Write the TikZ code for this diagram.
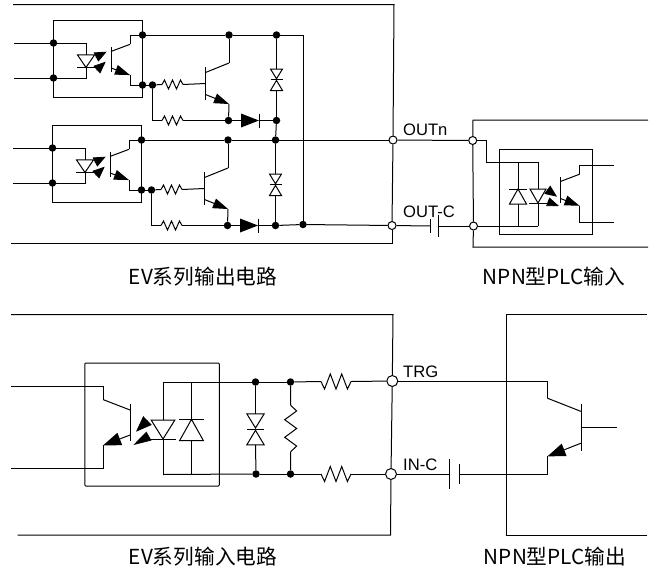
\documentclass[tikz,border=0pt]{standalone}
\usepackage{fontspec}
\setmainfont{Liberation Sans}
\newfontfamily\capfont{Noto Sans CJK SC}
\usetikzlibrary{arrows.meta}
\tikzstyle{line} = [draw, line width=1pt]
\tikzstyle{junction} = [circle, fill=black, inner sep=0pt, minimum size=7.5pt]
\tikzstyle{term} = [circle, draw, fill=white, line width=1pt, inner sep=0pt, minimum size=8pt]
\tikzstyle{term_big} = [term, minimum size=11pt]
\tikzstyle{opto_box} = [rectangle, draw, line width=1pt, inner sep=0pt]
\tikzstyle{pin_label} = [anchor=base west, inner sep=0pt, font=\fontsize{16.6}{16}\selectfont]
\tikzstyle{title} = [inner sep=0pt, font=\capfont\fontsize{20.7}{22}\selectfont]
\tikzstyle{ray} = [draw, line width=0.8pt, ->]
\tikzset{
	resistor/.pic={
		\draw[line] (-10.5,0) coordinate (-in) -- (-8,-4.5) -- (-4,4.5) -- (0,-4.5) -- (4,4.5) -- (8,-4.5) -- (10.5,0) coordinate (-out);
	},
	led/.pic={
		\draw[line] (-8.5,-6.25) -- (8.5,-6.25) -- (0,6.25) -- cycle;
		\draw[line] (-9,6.25) -- (9,6.25);
		\coordinate (-in) at (0,-6.25);
		\coordinate (-out) at (0,6.25);
	},
	zener/.pic={
		\draw[line] (-6,-10.5) -- (6,-10.5) -- (0,-0.7) -- cycle;
		\draw[line] (-6,0) -- (6,0);
		\draw[line] (-6,11) -- (6,11) -- (0,0.9) -- cycle;
		\coordinate (-in) at (0,-10.5);
		\coordinate (-out) at (0,11);
	},
	fdiode/.pic={
		\fill (-9,-7) -- (9,0) -- (-9,7) -- cycle;
		\draw[line] (9,-7) -- (9,7);
		\coordinate (-in) at (-9,0);
		\coordinate (-out) at (9,0);
	},
	npn/.pic={
		\draw[line] (0,-16.5) -- (0,16.5);
		\draw[line] (0,-11) -- (23.5,-20.5) coordinate (-c);
		\draw[line, ->] (0,11) -- (23.5,20.5) coordinate (-e);
		\coordinate (-b) at (0,0);
	},
	capacitor/.pic={
		\draw[line] (-3.65,-6.85) -- (-3.65,6.85);
		\draw[line] (3.65,-10.8) -- (3.65,10.8);
		\coordinate (-in) at (-3.65,0);
		\coordinate (-out) at (3.65,0);
	}
}

\begin{document}
\begin{tikzpicture}[x=1pt, y=-1pt, >={Triangle[length=15pt,width=10pt]}]
	\useasboundingbox (0,0) rectangle (662,571);

	% terminals of the upper pair
	\node[term] (t_outn) at (393,140) {};
	\node[term] (t_outc) at (392,225.5) {};
	\node[term] (t_inn) at (472.7,140.5) {};
	\node[term] (t_inc) at (473.5,226) {};

	\foreach \ch/\dx/\dy in {a/0/0, b/-1/105} {
		\begin{scope}[shift={(\dx,\dy)}]
			\node[opto_box, minimum width=89pt, minimum height=76.5pt] (box_\ch) at (98,58.75) {};
			\node[junction] (ci1_\ch) at (53.5,43) {};
			\node[junction] (ci2_\ch) at (53.5,78) {};
			\node[junction] (cc_\ch) at (142.5,35) {};
			\node[junction] (ce_\ch) at (142.5,85) {};
			\node[junction] (cj_\ch) at (152.5,85) {};
			\node[junction] (rail1_\ch) at (229,35) {};
			\node[junction] (rail2_\ch) at (276.5,35) {};
			\node[junction] (low1_\ch) at (228.5,120.5) {};
			\node[junction] (low2_\ch) at (276.5,120.5) {};
			\coordinate (in1_\ch) at (14,43);
			\coordinate (in2_\ch) at (14,78);

			\pic (led_\ch) at (86,61.2) {led};
			\draw[ray, >={Triangle[length=12pt,width=10pt]}] (95.7,57.2) -- (106.7,51.7);
			\draw[ray, >={Triangle[length=12pt,width=10pt]}] (96.5,70) -- (105.7,61.7);
			\pic[xscale=0.81, yscale=0.75] (qo_\ch) at (111,59.7) {npn};
			\pic (q_\ch) at (205.5,83.5) {npn};
			\pic (r1_\ch) at (172.5,84.5) {resistor};
			\pic (r2_\ch) at (172.5,120.5) {resistor};
			\pic (d_\ch) at (250,120.5) {fdiode};
			\pic (z_\ch) at (276.5,79.5) {zener};

			\path[line] (in1_\ch) -- (ci1_\ch);
			\path[line] (in2_\ch) -- (ci2_\ch);
			\path[line] (ci1_\ch) -| (led_\ch-in);
			\path[line] (ci2_\ch) -| (led_\ch-out);
			\path[line] (qo_\ch-c) |- (cc_\ch);
			\path[line] (qo_\ch-e) |- (ce_\ch);
			\path[line] (ce_\ch) -- (cj_\ch);
			\path[line] (cj_\ch) -- (r1_\ch-in);
			\path[line] (cj_\ch) |- (r2_\ch-in);
			\path[line] (r1_\ch-out) -- (q_\ch-b);
			\path[line] (r2_\ch-out) -- (low1_\ch);
			\path[line] (cc_\ch) -- (rail1_\ch);
			\path[line] (rail1_\ch) -- (rail2_\ch);
			\path[line] (rail1_\ch) -- (q_\ch-c);
			\path[line] (q_\ch-e) -- (low1_\ch);
			\path[line] (low1_\ch) -- (d_\ch-in);
			\path[line] (d_\ch-out) -- (low2_\ch);
			\path[line] (rail2_\ch) -- (z_\ch-in);
			\path[line] (z_\ch-out) -- (low2_\ch);
		\end{scope}
	}

	\node[junction] (rail3) at (303,224.5) {};
	\path[line] (rail2_a) -| (rail3);
	\path[line] (low2_a) -- (rail2_b);
	\path[line] (rail2_b) -- (t_outn);
	\path[line] (low2_b) -- (rail3);
	\path[line] (rail3) -- (t_outc);

	% upper module outline
	\coordinate (ev1_tl) at (13,4.5);
	\coordinate (ev1_tr) at (394,4.5);
	\coordinate (ev1_br) at (392,243);
	\coordinate (ev1_bl) at (11,243);
	\path[line] (ev1_tl) -- (ev1_tr) -- (t_outn);
	\path[line] (t_outn) -- (t_outc);
	\path[line] (t_outc) -- (ev1_br) -- (ev1_bl);

	% NPN input
	\coordinate (plc1_tr) at (648,120);
	\coordinate (plc1_tl) at (473,120);
	\coordinate (plc1_bl) at (473,247);
	\coordinate (plc1_br) at (648,247);
	\path[line] (plc1_tr) -- (plc1_tl) -- (t_inn);
	\path[line] (t_inn) -- (t_inc);
	\path[line] (t_inc) -- (plc1_bl) -- (plc1_br);
	\node[opto_box, minimum width=93pt, minimum height=85.2pt] (box_in) at (545.5,192.1) {};

	\pic[yscale=-1.2] (d_in) at (518,196.5) {led};
	\pic[xscale=0.95, yscale=1.12] (led_in) at (538,196) {led};
	\draw[ray, >={Triangle[length=12pt,width=10pt]}] (547.3,189.7) -- (557,196.7);
	\draw[ray, >={Triangle[length=12pt,width=9pt]}] (547.8,201.8) -- (559,206);
	\pic[xscale=0.82, yscale=0.77] (q_in) at (560.3,190) {npn};
	\coordinate (q_in1) at (486,162.3);
	\coordinate (q_in2) at (538,226);
	\coordinate (q_in3) at (518,162.3);
	\coordinate (q_in4) at (518,226);
	\coordinate (out_c) at (614,165);
	\coordinate (out_e) at (614,222);
	\path[line] (t_inn) -| (q_in1);
	\path[line] (q_in1) -| (led_in-in);
	\path[line] (led_in-out) -- (q_in2);
	\path[line] (t_inc) -- (q_in2);
	\path[line] (q_in3) -- (d_in-out);
	\path[line] (d_in-in) -- (q_in4);
	\path[line] (q_in-c) |- (out_c);
	\path[line] (q_in-e) |- (out_e);

	\path[line] (t_outn) -- (t_inn);
	\pic (c_out) at (434.35,226) {capacitor};
	\path[line] (t_outc) -- (c_out-in);
	\path[line] (c_out-out) -- (t_inc);

	\node[pin_label] (l_outn) at (403,135) {OUTn};
	\node[pin_label] (l_outc) at (403,217) {OUT-C};
	\node[title] (title_evo) at (203,277) {EV系列输出电路};
	\node[title] (title_plci) at (554,277) {NPN型PLC输入};

	% lower pair
	\node[term_big] (t_trg) at (392.3,381) {};
	\node[term_big] (t_cin) at (391,474) {};
	\node[opto_box, rounded corners=1pt, minimum width=134.5pt, minimum height=123pt] (box_ev2) at (152,424.5) {};
	\node[junction] (top1) at (255.5,382) {};
	\node[junction] (top2) at (290.5,382) {};
	\node[junction] (bot1) at (256,474) {};
	\node[junction] (bot2) at (290.5,474) {};
	\coordinate (led_top) at (163,382);
	\coordinate (led_bot) at (163,474.5);
	\coordinate (dio_top) at (191.5,382);
	\coordinate (dio_bot) at (191.5,474.5);
	\coordinate (in_c) at (11,386);
	\coordinate (in_e) at (11,468.5);

	\pic[xscale=1.4, yscale=1.52] (led2) at (163,429.5) {led};
	\pic[xscale=1.4, yscale=-1.7] (d2) at (191.5,430) {led};
	\draw[ray, >={Triangle[length=16pt,width=12pt]}] (147.5,420.5) -- (136,431.7);
	\draw[ray, >={Triangle[length=18pt,width=10pt]}] (149,436) -- (133.3,445);
	\pic[xscale=-1.17, yscale=1.12, >={Triangle[length=18pt,width=13pt]}] (q2) at (130.5,422.5) {npn};
	\pic[scale=1.45] (z2) at (255.5,429) {zener};
	\pic[rotate=-90, xscale=2.2, yscale=1.33] (rv) at (290.7,428.5) {resistor};
	\pic[xscale=1.43, yscale=-1.67] (rt) at (336,381.5) {resistor};
	\pic[xscale=1.43, yscale=-1.67] (rb) at (336,474) {resistor};

	\path[line] (in_c) -| (q2-c);
	\path[line] (in_e) -| (q2-e);
	\path[line] (led_top) -- (led2-in);
	\path[line] (led2-out) -- (led_bot);
	\path[line] (dio_top) -- (d2-out);
	\path[line] (d2-in) -- (dio_bot);
	\path[line] (led_top) -- (top1);
	\path[line] (led_bot) -- (bot1);
	\path[line] (top1) -- (top2);
	\path[line] (bot1) -- (bot2);
	\path[line] (top1) -- (z2-in);
	\path[line] (z2-out) -- (bot1);
	\path[line] (top2) -- (rv-in);
	\path[line] (rv-out) -- (bot2);
	\path[line] (top2) -- (rt-in);
	\path[line] (bot2) -- (rb-in);
	\path[line] (rt-out) -- (t_trg);
	\path[line] (rb-out) -- (t_cin);

	% lower module outline
	\coordinate (ev2_tl) at (11,314.7);
	\coordinate (ev2_tr) at (393,314.7);
	\coordinate (ev2_br) at (390.5,535);
	\coordinate (ev2_bl) at (17.5,535);
	\path[line] (ev2_tl) -- (ev2_tr) -- (t_trg);
	\path[line] (t_trg) -- (t_cin);
	\path[line] (t_cin) -- (ev2_br) -- (ev2_bl);

	% NPN output
	\coordinate (plc2_tr) at (647,314.7);
	\coordinate (plc2_tl) at (506.3,314.7);
	\coordinate (plc2_bl) at (506.3,535);
	\coordinate (plc2_br) at (647,535);
	\path[line] (plc2_tr) -- (plc2_tl) -- (plc2_bl) -- (plc2_br);

	\pic[xscale=-1.46, yscale=1.42, >={Triangle[length=18pt,width=13pt]}] (q3) at (581.7,427.3) {npn};
	\coordinate (q3_base) at (616.7,427.3);
	\path[line] (q3-b) -- (q3_base);
	\path[line] (t_trg) -| (q3-c);
	\pic[xscale=-1.45, yscale=1.39] (c_in) at (454.65,474) {capacitor};
	\path[line] (t_cin) -- (c_in-out);
	\path[line] (c_in-in) -| (q3-e);

	\node[pin_label] (l_trg) at (403,377.7) {TRG};
	\node[pin_label] (l_cin) at (403,470) {IN-C};
	\node[title] (title_evi) at (203,557) {EV系列输入电路};
	\node[title] (title_plco) at (555,557) {NPN型PLC输出};
\end{tikzpicture}
\end{document}
